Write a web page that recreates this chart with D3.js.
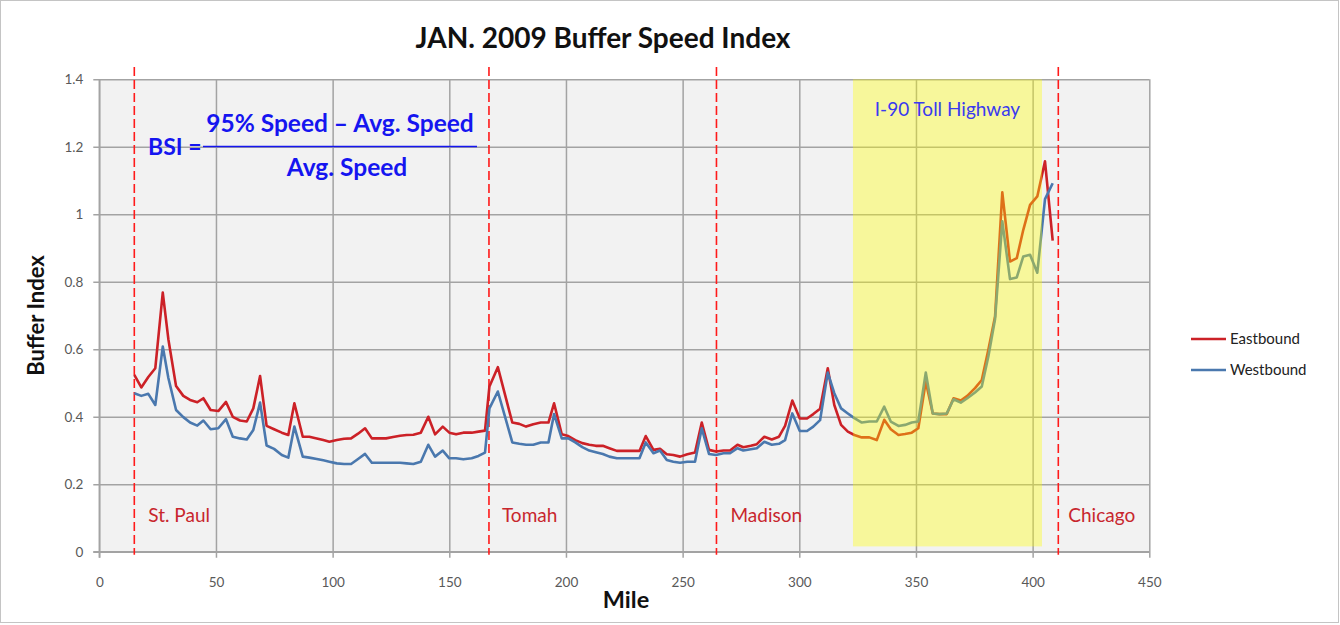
<!DOCTYPE html>
<html>
<head>
<meta charset="utf-8">
<script src="https://cdn.jsdelivr.net/npm/d3@7"></script>
<style>
  html, body { margin: 0; padding: 0; background: #ffffff; }
  svg { display: block; font-family: Lato, "Open Sans", sans-serif; }
</style>
</head>
<body>
<svg id="chart" width="1340" height="625"></svg>
<script>
// Mile posts along the corridor
const miles = [
  15, 18, 21, 24, 27.2, 29.6, 32.9, 36, 38.9, 42, 44.6, 47.7, 51, 54.3, 57.2, 60.3,
  63.2, 66, 68.9, 71.7, 74.9, 78.2, 81, 83.6, 87.2, 90, 93.2, 96, 98.6, 101.8, 104.9,
  107.9, 110.9, 113.9, 116.8, 119.8, 122.9, 125.9, 128.9, 131.7, 134.6, 137.8, 141,
  143.9, 147.2, 150, 152.9, 156, 159.6, 162.5, 165.3, 167.2, 170.8, 173.9, 177, 180,
  182.9, 186, 189.2, 192.5, 194.9, 198.2, 201, 204, 207, 210, 212.8, 215.8, 218.6,
  221.8, 224.8, 228.2, 231.5, 234.2, 237.5, 240.3, 243.2, 246, 248.9, 252, 255.3,
  258.2, 261.3, 264.3, 267.5, 270.3, 273.5, 276, 279.2, 281.8, 285, 288.2, 291.3,
  293.9, 297, 300.2, 303.3, 306, 308.9, 312.2, 315, 317.9, 320.8, 323.6, 326.8, 330,
  333.2, 336.4, 339.2, 342.5, 345.3, 348.2, 351, 354.2, 357.2, 360.1, 363.2, 366.1,
  369.2, 372, 375.3, 378.2, 381, 383.9, 387, 390.3, 393.2, 396, 398.9, 402, 405.3, 408.6
];

// Buffer index, eastbound
const eastbound = [
  0.524, 0.487, 0.518, 0.544, 0.768, 0.63, 0.491, 0.462, 0.45, 0.443, 0.455, 0.42, 0.417, 0.444, 0.40, 0.389,
  0.386, 0.425, 0.521, 0.373, 0.363, 0.353, 0.346, 0.44, 0.341, 0.341, 0.336, 0.331, 0.326, 0.331, 0.335,
  0.336, 0.35, 0.366, 0.336, 0.336, 0.336, 0.34, 0.344, 0.346, 0.347, 0.353, 0.40,
  0.348, 0.371, 0.353, 0.348, 0.353, 0.353, 0.356, 0.359, 0.49, 0.547, 0.465, 0.383, 0.379,
  0.371, 0.378, 0.383, 0.383, 0.44, 0.348, 0.343, 0.331, 0.322, 0.317, 0.314, 0.314, 0.307,
  0.299, 0.299, 0.299, 0.299, 0.343, 0.302, 0.305, 0.289, 0.287, 0.282, 0.289, 0.294,
  0.383, 0.302, 0.297, 0.30, 0.30, 0.317, 0.31, 0.314, 0.319, 0.341, 0.333, 0.341,
  0.373, 0.448, 0.395, 0.395, 0.408, 0.424, 0.544, 0.435, 0.376, 0.356, 0.346, 0.339, 0.339,
  0.331, 0.391, 0.363, 0.346, 0.349, 0.353, 0.366, 0.504, 0.41, 0.408, 0.408, 0.455,
  0.448, 0.462, 0.485, 0.509, 0.598, 0.697, 1.065, 0.86, 0.87, 0.954, 1.028, 1.053, 1.157, 0.922
];

// Buffer index, westbound
const westbound = [
  0.47, 0.462, 0.468, 0.435, 0.608, 0.515, 0.42, 0.399, 0.383, 0.374, 0.389, 0.363, 0.366, 0.393, 0.341, 0.336,
  0.333, 0.361, 0.442, 0.315, 0.305, 0.287, 0.279, 0.371, 0.282, 0.279, 0.275, 0.271, 0.267, 0.262, 0.26,
  0.26, 0.275, 0.29, 0.264, 0.264, 0.264, 0.264, 0.264, 0.262, 0.26, 0.267, 0.317,
  0.282, 0.30, 0.277, 0.277, 0.274, 0.277, 0.284, 0.294, 0.425, 0.475, 0.40, 0.324, 0.32,
  0.317, 0.317, 0.324, 0.324, 0.408, 0.336, 0.336, 0.324, 0.31, 0.30, 0.295, 0.29, 0.282,
  0.277, 0.277, 0.277, 0.277, 0.324, 0.292, 0.30, 0.272, 0.267, 0.264, 0.267, 0.267,
  0.366, 0.29, 0.287, 0.292, 0.292, 0.307, 0.30, 0.304, 0.307, 0.326, 0.317, 0.32,
  0.331, 0.41, 0.358, 0.358, 0.371, 0.39, 0.531, 0.47, 0.425, 0.41, 0.396, 0.383, 0.386,
  0.386, 0.43, 0.386, 0.373, 0.376, 0.383, 0.386, 0.531, 0.41, 0.408, 0.41, 0.452,
  0.442, 0.455, 0.472, 0.49, 0.578, 0.69, 0.979, 0.808, 0.813, 0.875, 0.88, 0.827, 1.045, 1.092
];

// City boundaries (mile) and their labels
const cityNames = ["St. Paul", "Tomah", "Madison", "Chicago"];
const cityMiles = [15, 167, 264.5, 411];

// Tolled section
const tollRange = [323, 404];
const tollLabel = "I-90 Toll Highway";

const xTicks = [0, 50, 100, 150, 200, 250, 300, 350, 400, 450];
const yTicks = [0, 0.2, 0.4, 0.6, 0.8, 1, 1.2, 1.4];

const seriesNames = ["Eastbound", "Westbound"];
const seriesColors = ["#cc2127", "#4a78ae"];

const svg = d3.select("#chart");
const W = 1340, H = 625;
const plot = { left: 99.3, right: 1149.3, top: 79.3, bottom: 551.8 };

const x = d3.scaleLinear().domain([0, 450]).range([plot.left, plot.right]);
const y = d3.scaleLinear().domain([0, 1.4]).range([plot.bottom, plot.top]);

// Chart frame
svg.append("rect")
  .attr("x", 0.5).attr("y", 0.5).attr("width", W - 2).attr("height", H - 3)
  .attr("fill", "#ffffff").attr("stroke", "#c4c4c4").attr("stroke-width", 1);

// Plot area background
svg.append("rect")
  .attr("x", plot.left).attr("y", plot.top)
  .attr("width", plot.right - plot.left).attr("height", plot.bottom - plot.top)
  .attr("fill", "#f2f2f2");

// Gridlines (with the small outward tick marks)
const gridColor = "#a3a3a3";
const gx = svg.append("g")
  .attr("transform", `translate(0,${plot.bottom})`)
  .call(d3.axisBottom(x).tickValues(xTicks).tickSizeInner(-(plot.bottom - plot.top)).tickSizeOuter(0).tickFormat(""));
gx.select(".domain").remove();
gx.selectAll("line").attr("stroke", gridColor).attr("stroke-width", 1.5)
  .attr("y2", -(plot.bottom - plot.top)).attr("y1", 6);

const gy = svg.append("g")
  .attr("transform", `translate(${plot.left},0)`)
  .call(d3.axisLeft(y).tickValues(yTicks).tickSizeInner(-(plot.right - plot.left)).tickSizeOuter(0).tickFormat(""));
gy.select(".domain").remove();
gy.selectAll("line").attr("stroke", gridColor).attr("stroke-width", 1.5)
  .attr("x1", -6);

// Axis lines
svg.append("line").attr("x1", plot.left).attr("x2", plot.left)
  .attr("y1", plot.top).attr("y2", plot.bottom + 6)
  .attr("stroke", gridColor).attr("stroke-width", 1.5);
svg.append("line").attr("x1", plot.left - 6).attr("x2", plot.right)
  .attr("y1", plot.bottom).attr("y2", plot.bottom)
  .attr("stroke", gridColor).attr("stroke-width", 1.5);

// Tick labels
const ax = svg.append("g")
  .attr("transform", `translate(0,${plot.bottom})`)
  .call(d3.axisBottom(x).tickValues(xTicks).tickSize(0).tickPadding(26).tickFormat(d3.format("d")));
ax.select(".domain").remove();
ax.selectAll("text").attr("fill", "#595959").style("font-size", "13.5px").style("font-family", "Lato");

const ay = svg.append("g")
  .attr("transform", `translate(${plot.left},0)`)
  .call(d3.axisLeft(y).tickValues(yTicks).tickSize(0).tickPadding(16).tickFormat(d3.format("~g")));
ay.select(".domain").remove();
ay.selectAll("text").attr("fill", "#595959").style("font-size", "13.5px").style("font-family", "Lato");

// City boundary markers
svg.append("g").selectAll("line").data(cityMiles).join("line")
  .attr("x1", d => x(d)).attr("x2", d => x(d))
  .attr("y1", 67).attr("y2", plot.bottom + 3)
  .attr("stroke", "#ff1a1a").attr("stroke-width", 1.6)
  .attr("stroke-dasharray", "9,4");

// Series lines
const line = d3.line().x((d, i) => x(miles[i])).y(d => y(d));
[eastbound, westbound].forEach((vals, k) => {
  svg.append("path")
    .attr("d", line(vals))
    .attr("fill", "none")
    .attr("stroke", seriesColors[k])
    .attr("stroke-width", 2.6)
    .attr("stroke-linejoin", "round");
});

// Tolled section highlight
svg.append("rect")
  .attr("x", x(tollRange[0])).attr("width", x(tollRange[1]) - x(tollRange[0]))
  .attr("y", y(1.4)).attr("height", y(0.016) - y(1.4))
  .attr("fill", "#ffff00").attr("fill-opacity", 0.36);

svg.append("text")
  .attr("x", (x(tollRange[0]) + x(tollRange[1])) / 2).attr("y", 116)
  .attr("text-anchor", "middle")
  .attr("fill", "#3a3af0").style("font-size", "19px")
  .text(tollLabel);

// City labels
const cityOffsets = [14, 13, 14, 10];
svg.append("g").selectAll("text").data(cityNames).join("text")
  .attr("x", (d, i) => x(cityMiles[i]) + cityOffsets[i]).attr("y", 522)
  .attr("fill", "#c8262d").style("font-size", "19px")
  .text(d => d);

// Formula
const fBlue = "#1515f0";
svg.append("text").attr("x", 148).attr("y", 155)
  .attr("fill", fBlue).style("font-size", "23px").style("font-weight", "bold")
  .text("BSI =");
svg.append("text").attr("x", 340).attr("y", 132).attr("text-anchor", "middle")
  .attr("fill", fBlue).style("font-size", "24.5px").style("font-weight", "bold")
  .text("95% Speed – Avg. Speed");
svg.append("line").attr("x1", 203).attr("x2", 477).attr("y1", 146.5).attr("y2", 146.5)
  .attr("stroke", fBlue).attr("stroke-width", 1.5);
svg.append("text").attr("x", 347).attr("y", 176).attr("text-anchor", "middle")
  .attr("fill", fBlue).style("font-size", "24.5px").style("font-weight", "bold")
  .text("Avg. Speed");

// Title and axis titles
svg.append("text").attr("x", 603).attr("y", 48).attr("text-anchor", "middle")
  .attr("fill", "#111").style("font-size", "28px").style("font-weight", "bold")
  .text("JAN. 2009 Buffer Speed Index");
svg.append("text").attr("x", 626).attr("y", 608).attr("text-anchor", "middle")
  .attr("fill", "#111").style("font-size", "23.5px").style("font-weight", "bold")
  .text("Mile");
svg.append("text")
  .attr("transform", `translate(44,${(plot.top + plot.bottom) / 2}) rotate(-90)`)
  .attr("text-anchor", "middle")
  .attr("fill", "#111").style("font-size", "22px").style("font-weight", "bold")
  .text("Buffer Index");

// Legend
const legend = svg.append("g").selectAll("g").data(seriesNames).join("g")
  .attr("transform", (d, i) => `translate(1191,${339 + i * 31})`);
legend.append("line").attr("x1", 0).attr("x2", 35)
  .attr("stroke", (d, i) => seriesColors[i]).attr("stroke-width", 2.6);
legend.append("text").attr("x", 39).attr("y", 5)
  .attr("fill", "#222").style("font-size", "15px")
  .text(d => d);
</script>
</body>
</html>
